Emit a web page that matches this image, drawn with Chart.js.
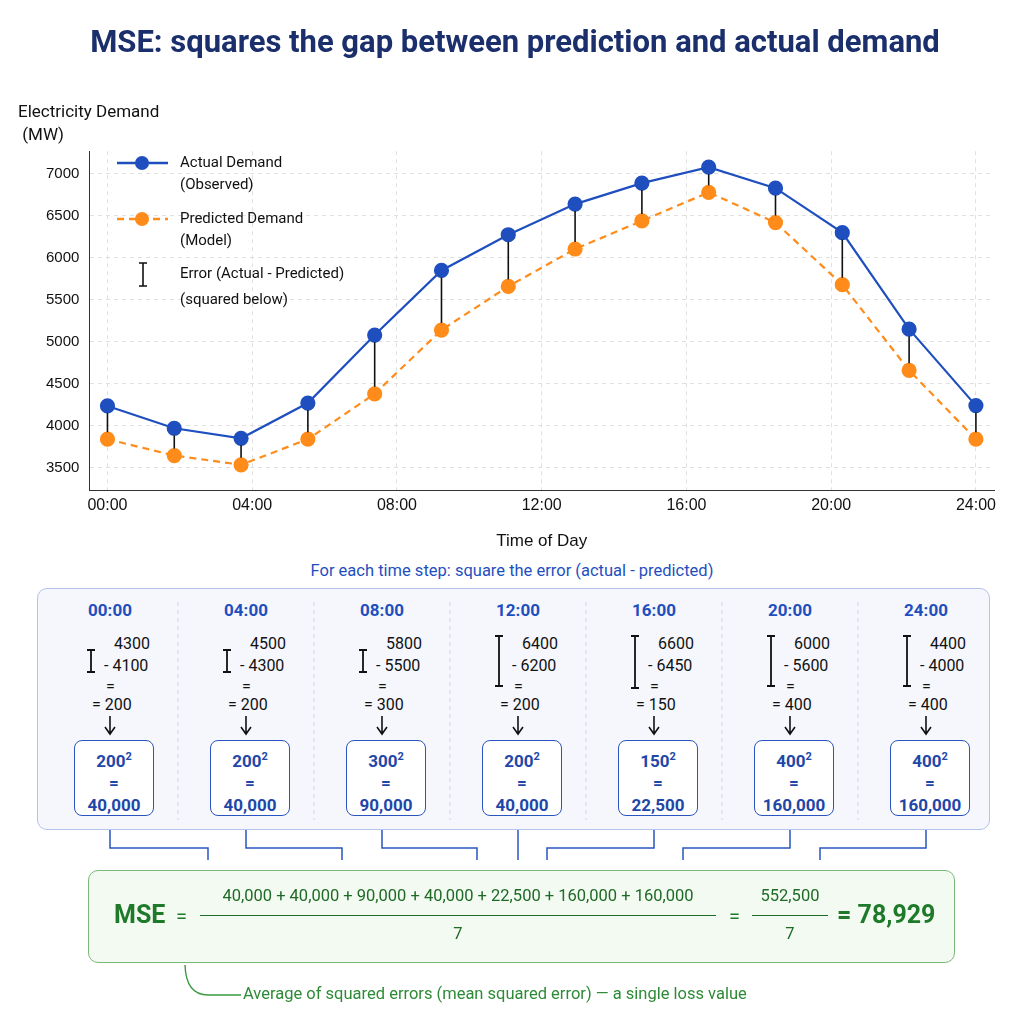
<!DOCTYPE html>
<html><head><meta charset="utf-8">
<script src="https://cdn.jsdelivr.net/npm/chart.js@4"></script>
<style>
body{margin:0;width:1024px;height:1024px;background:#fff;font-family:Roboto,"Noto Sans",sans-serif;position:relative;overflow:hidden}
#wrap{position:absolute;left:0;top:0;width:1024px;height:560px}
.abs{position:absolute}
.col{position:absolute;top:598px;width:136px;height:225px;text-align:center}
.col .t{color:#1f4fbf;font-weight:bold;font-size:17px;margin-top:2px}
.calc{position:relative;height:90px;font-size:16px;color:#111}
.sq{position:absolute;left:32px;top:142px;width:80px;height:76px;border:1.5px solid #2a55c0;border-radius:8px;background:#fff;color:#1f47a8;font-weight:bold;font-size:17px;line-height:22px;padding-top:5px;box-sizing:border-box}
</style></head><body>
<div id="wrap"><canvas id="c" width="1024" height="560"></canvas></div>
<div class="abs" style="left:18px;top:100px;font-size:17px;color:#111;line-height:23px">Electricity Demand<br>&nbsp;(MW)</div>
<div class="abs" style="left:0;width:1024px;top:561px;text-align:center;color:#1f4fbf;font-size:16.5px">For each time step: square the error (actual - predicted)</div>
<div class="abs" style="left:37px;top:588px;width:953px;height:242px;border:1.5px solid #b4c2ec;border-radius:10px;background:#f5f7fd;box-sizing:border-box"></div>
<div id="cols"></div>
<svg class="abs" style="left:0;top:0" width="1024" height="1024" id="svg"></svg>
<div class="abs" style="left:88px;top:870px;width:867px;height:93px;border:1.5px solid #7cb87a;border-radius:10px;background:#f3faf1;box-sizing:border-box"></div>
<div class="abs" style="left:114px;top:900px;font-size:25px;font-weight:bold;color:#1e7a2a">MSE</div>
<div class="abs" style="left:176px;top:904px;font-size:20px;color:#1e7a2a">=</div>
<div class="abs" style="left:200px;top:886px;width:516px;text-align:center;font-size:16.5px;color:#1e6a26">40,000 + 40,000 + 90,000 + 40,000 + 22,500 + 160,000 + 160,000</div>
<div class="abs" style="left:200px;top:915px;width:516px;border-top:1.3px solid #1e6a26"></div>
<div class="abs" style="left:200px;top:924px;width:516px;text-align:center;font-size:16.5px;color:#1e6a26">7</div>
<div class="abs" style="left:729px;top:904px;font-size:20px;color:#1e7a2a">=</div>
<div class="abs" style="left:752px;top:886px;width:76px;text-align:center;font-size:16.5px;color:#1e6a26">552,500</div>
<div class="abs" style="left:752px;top:915px;width:76px;border-top:1.3px solid #1e6a26"></div>
<div class="abs" style="left:752px;top:924px;width:76px;text-align:center;font-size:16.5px;color:#1e6a26">7</div>
<div class="abs" style="left:837px;top:900px;font-size:25px;font-weight:bold;color:#1e7a2a">= 78,929</div>
<div class="abs" style="left:243px;top:984px;font-size:16.5px;color:#2e8a36">Average of squared errors (mean squared error) — a single loss value</div>
<script>
const hours=[0,24/13,48/13,72/13,96/13,120/13,144/13,168/13,192/13,216/13,240/13,264/13,288/13,24];
const actual=[4236,3970,3850,4270,5080,5850,6275,6640,6890,7080,6830,6300,5150,4240];
const predicted=[3840,3645,3535,3840,4380,5140,5660,6105,6440,6780,6420,5680,4660,3840];
const yTicks=[3500,4000,4500,5000,5500,6000,6500,7000];
const xTicks=[0,4,8,12,16,20,24];
const stepLabels=["00:00","04:00","08:00","12:00","16:00","20:00","24:00"];
const stepActual=[4300,4500,5800,6400,6600,6000,4400];
const stepPred=[4100,4300,5500,6200,6450,5600,4000];
const stepErr=[200,200,300,200,150,400,400];
const stepSq=["40,000","40,000","90,000","40,000","22,500","160,000","160,000"];
const fmt=h=>String(h).padStart(2,'0')+':00';

const errPlugin={id:'err',afterDatasetsDraw(ch){
 const c=ch.ctx,x=ch.scales.x,y=ch.scales.y;
 c.save();c.strokeStyle='#111';c.lineWidth=1.6;
 hours.forEach((h,i)=>{c.beginPath();c.moveTo(x.getPixelForValue(h),y.getPixelForValue(actual[i])+7);c.lineTo(x.getPixelForValue(h),y.getPixelForValue(predicted[i])-7);c.stroke();});
 c.font='15px Roboto';c.fillStyle='#111';c.textBaseline='middle';
 c.strokeStyle='#1f4fbf';c.lineWidth=2.5;c.beginPath();c.moveTo(117,163);c.lineTo(168,163);c.stroke();
 c.fillStyle='#1f4fbf';c.beginPath();c.arc(142,163,7,0,7);c.fill();
 c.fillStyle='#111';c.fillText('Actual Demand',180,163);c.fillText('(Observed)',180,185);
 c.strokeStyle='#ff8c1a';c.setLineDash([7,5]);c.beginPath();c.moveTo(117,219);c.lineTo(168,219);c.stroke();c.setLineDash([]);
 c.fillStyle='#ff8c1a';c.beginPath();c.arc(142,219,7,0,7);c.fill();
 c.fillStyle='#111';c.fillText('Predicted Demand',180,219);c.fillText('(Model)',180,241);
 c.strokeStyle='#111';c.lineWidth=1.6;c.beginPath();c.moveTo(143,263);c.lineTo(143,286);c.moveTo(139,263);c.lineTo(147,263);c.moveTo(139,286);c.lineTo(147,286);c.stroke();
 c.fillText('Error (Actual - Predicted)',180,274);c.fillText('(squared below)',180,300);
 c.restore();}};

new Chart(document.getElementById('c'),{type:'line',
 data:{datasets:[
  {data:hours.map((h,i)=>({x:h,y:actual[i]})),borderColor:'#1f4fbf',backgroundColor:'#1f4fbf',borderWidth:2.2,pointRadius:6.5,pointHoverRadius:6.5},
  {data:hours.map((h,i)=>({x:h,y:predicted[i]})),borderColor:'#ff8c1a',backgroundColor:'#ff8c1a',borderWidth:2.2,borderDash:[7,5],pointRadius:6.5}]},
 options:{responsive:false,animation:false,
  layout:{padding:{left:36,right:30,top:0,bottom:4}},
  plugins:{legend:{display:false},tooltip:{enabled:false},
   title:{display:true,text:'MSE: squares the gap between prediction and actual demand',color:'#1a2f6b',font:{size:31,weight:'bold',family:'Roboto'},padding:{top:26,bottom:88},align:'center'}},
  scales:{
   x:{type:'linear',min:-0.5,max:24.5,afterBuildTicks:a=>{a.ticks=xTicks.map(v=>({value:v}))},
    ticks:{callback:v=>fmt(v),color:'#111',font:{size:16},padding:6},
    grid:{color:'#e0e0e0',drawTicks:false},border:{color:'#333',dash:[4,4]},
    title:{display:true,text:'Time of Day',color:'#111',font:{size:17},padding:{top:10}}},
   y:{min:3230,max:7270,afterBuildTicks:a=>{a.ticks=yTicks.map(v=>({value:v}))},
    ticks:{callback:v=>String(v),color:'#111',font:{size:15},padding:10},
    grid:{color:'#e0e0e0',drawTicks:false},border:{color:'#333',dash:[4,4]}}}},
 plugins:[errPlugin]});

const cols=document.getElementById('cols');
const colW=136, x0=42;
let svg='';
stepLabels.forEach((l,i)=>{
 const left=x0+i*colW;
 if(i>0) svg+=`<line x1="${left}" y1="602" x2="${left}" y2="820" stroke="#cfd6e6" stroke-dasharray="4,4"/>`;
 const d=document.createElement('div');d.className='col';d.style.left=left+'px';
 d.innerHTML=`<div class="t">${l}</div>
 <div class="calc"><div class="abs" style="left:72px;top:14px">${stepActual[i]}</div>
 <div class="abs" style="left:62px;top:36px">- ${stepPred[i]}</div>
 <div class="abs" style="left:64px;top:57px">=</div>
 <div class="abs" style="left:50px;top:75px">= ${stepErr[i]}</div></div>
 <div class="sq">${stepErr[i]}<sup style="font-size:11px">2</sup><br>=<br>${stepSq[i]}</div>`;
 cols.appendChild(d);
 const cx=left+68;
 const bottom=i<=2?672:(i===3?686:(i===4?688:(i===5?686:686)));
 const top=i<=2?650:636;
 svg+=`<path d="M${cx-19} ${top} V${bottom} M${cx-23} ${top} h8 M${cx-23} ${bottom} h8" stroke="#111" stroke-width="1.8" fill="none"/>`;
 svg+=`<path d="M${cx} 716 v17 M${cx-5} 727 l5 7 l5 -7" stroke="#111" stroke-width="1.6" fill="none"/>`;
});
const ends=[208,342,477,512,547,683,820];
stepLabels.forEach((l,i)=>{const cx=x0+i*colW+68;const e=ends[i];
 svg+= i===3?`<path d="M${cx} 830 V860" stroke="#2a55c0" stroke-width="1.5" fill="none"/>`:
 `<path d="M${cx} 830 V848 H${e} V860" stroke="#2a55c0" stroke-width="1.5" fill="none"/>`;});
svg+=`<path d="M241 995 H208 Q186 995 185 965" stroke="#3a9a40" stroke-width="1.4" fill="none"/><path d="M180 958 L185 949 L190 958" stroke="#3a9a40" stroke-width="1.4" fill="none"/>`;
document.getElementById('svg').innerHTML=svg;
</script></body></html>
